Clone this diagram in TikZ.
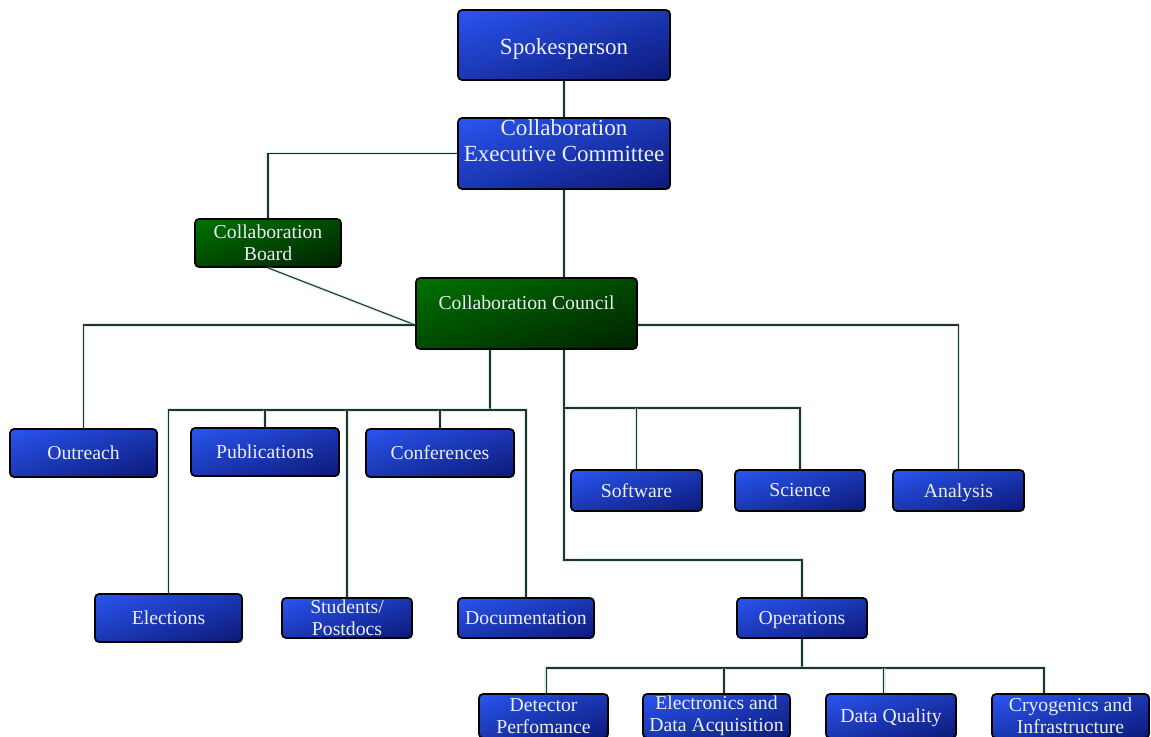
\documentclass[tikz,border=0pt]{standalone}
\usepackage{fontspec}
\setmainfont{Liberation Serif}
\usetikzlibrary{shadows}
\definecolor{linecol}{RGB}{35,50,45}
\definecolor{halo}{RGB}{170,225,205}
\definecolor{txt}{RGB}{235,238,245}
% diagonal gradients: light at top-left, dark at bottom-right (stretched to the box)
\pgfdeclarefunctionalshading{diagblue}{\pgfpoint{-50bp}{-50bp}}{\pgfpoint{50bp}{50bp}}{}{
  exch sub 100 add 200 div 0.05 sub 0.9 div
  dup 0.21 mul exch
  dup 0.43 mul exch
  0.85 mul 0.28 add
}
\pgfdeclarefunctionalshading{diaggreen}{\pgfpoint{-50bp}{-50bp}}{\pgfpoint{50bp}{50bp}}{}{
  exch sub 100 add 200 div 0.05 sub 0.9 div
  0.58 mul 0 exch 0
}
\tikzset{
  boxbase/.style={draw=black, line width=1.3pt, rounded corners=3pt, inner sep=0pt,
    align=center, text=txt,
    drop shadow={shadow xshift=0.8pt, shadow yshift=-0.8pt, fill=halo, opacity=0.7},
    font=\fontsize{14.8pt}{16.5pt}\selectfont},
  bluebox/.style={boxbase, shade, shading=diagblue},
  greenbox/.style={boxbase, shade, shading=diaggreen},
  bigfont/.style={font=\fontsize{17.3pt}{19.5pt}\selectfont},
  conn/.style={draw=linecol, line width=0.8pt,
    preaction={draw=halo, line width=2.4pt, opacity=0.45}},
}
\newcommand\bx[7]{\node[#6, minimum width={(#4-#2)*0.75pt}, minimum height={(#5-#3)*0.75pt}] (#1) at ({(#2+#4)/2},{(#3+#5)/2}) {#7};}
\newcommand\rb[2]{\raisebox{#1}[0pt][0pt]{#2}}
\begin{document}
\begin{tikzpicture}[x=0.75pt, y=-0.75pt]
\useasboundingbox (0,0) rectangle (1151,736);
\fill[white] (0,0) rectangle (1151,736);
\coordinate (busL) at (490,410);
\coordinate (busR) at (564,408);
\coordinate (busO) at (564,560);
\coordinate (busB) at (802,668);
% boxes
\bx{spk}{458}{10}{670}{80}{bluebox,bigfont}{\rb{-7.2pt}{Spokesperson}}
\bx{cec}{458}{118}{670}{189}{bluebox,bigfont}{\rb{3.4pt}{\begin{tabular}{@{}c@{}}Collaboration\\Executive Committee\end{tabular}}}
\bx{board}{195}{219}{341}{267}{greenbox}{Collaboration\\Board}
\bx{council}{416}{278}{637}{349}{greenbox}{\rb{3pt}{Collaboration Council}}
\bx{outreach}{10}{429}{157}{477}{bluebox}{Outreach}
\bx{pub}{191}{428}{339}{476}{bluebox}{Publications}
\bx{conf}{366}{429}{514}{477}{bluebox}{Conferences}
\bx{software}{571}{470}{702}{511}{bluebox}{Software}
\bx{science}{735}{470}{865}{511}{bluebox}{Science}
\bx{analysis}{893}{470}{1024}{511}{bluebox}{\rb{-5pt}{Analysis}}
\bx{elections}{95}{594}{242}{642}{bluebox}{Elections}
\bx{students}{282}{598}{412}{638}{bluebox}{Students/\\Postdocs}
\bx{doc}{458}{598}{594}{638}{bluebox}{Documentation}
\bx{ops}{737}{598}{867}{638}{bluebox}{\rb{-5pt}{Operations}}
\bx{det}{479}{694}{608}{738}{bluebox}{Detector\\Perfomance}
\bx{elec}{643}{694}{790}{738}{bluebox}{Electronics and\\Data Acquisition}
\bx{dq}{826}{694}{956}{738}{bluebox}{\rb{-5pt}{Data Quality}}
\bx{cryo}{992}{694}{1149}{738}{bluebox}{Cryogenics and\\Infrastructure}
% connectors
\path[conn] (spk.south) -- (cec.north);
\path[conn] (cec.west) -| (board.north);
\path[conn] (cec.south) -- (cec.south |- council.north);
\path[conn] (board.south) -- ([yshift=-8.6pt]council.west);
\path[conn] ([yshift=-8.6pt]council.west) -| (outreach.north);
\path[conn] ([yshift=-8.6pt]council.east) -| (analysis.north);
\path[conn] (council.south -| busL) -- (busL);
\path[conn] (elections.north) |- (doc.north |- busL) -- (doc.north);
\path[conn] (pub.north) -- (pub.north |- busL);
\path[conn] (conf.north) -- (conf.north |- busL);
\path[conn] (students.north) -- (students.north |- busL);
\path[conn] (council.south -| busR) -- (busO) -| (ops.north);
\path[conn] (busR) -| (science.north);
\path[conn] (software.north) -- (software.north |- busR);
\path[conn] (ops.south) -- (busB);
\path[conn] ([xshift=1.9pt]det.north) |- (busB) -| ([xshift=-19.9pt]cryo.north);
\path[conn] ([xshift=5.6pt]elec.north) -- ([xshift=5.6pt]elec.north |- busB);
\path[conn] ([xshift=-5.3pt]dq.north) -- ([xshift=-5.3pt]dq.north |- busB);
\end{tikzpicture}
\end{document}
